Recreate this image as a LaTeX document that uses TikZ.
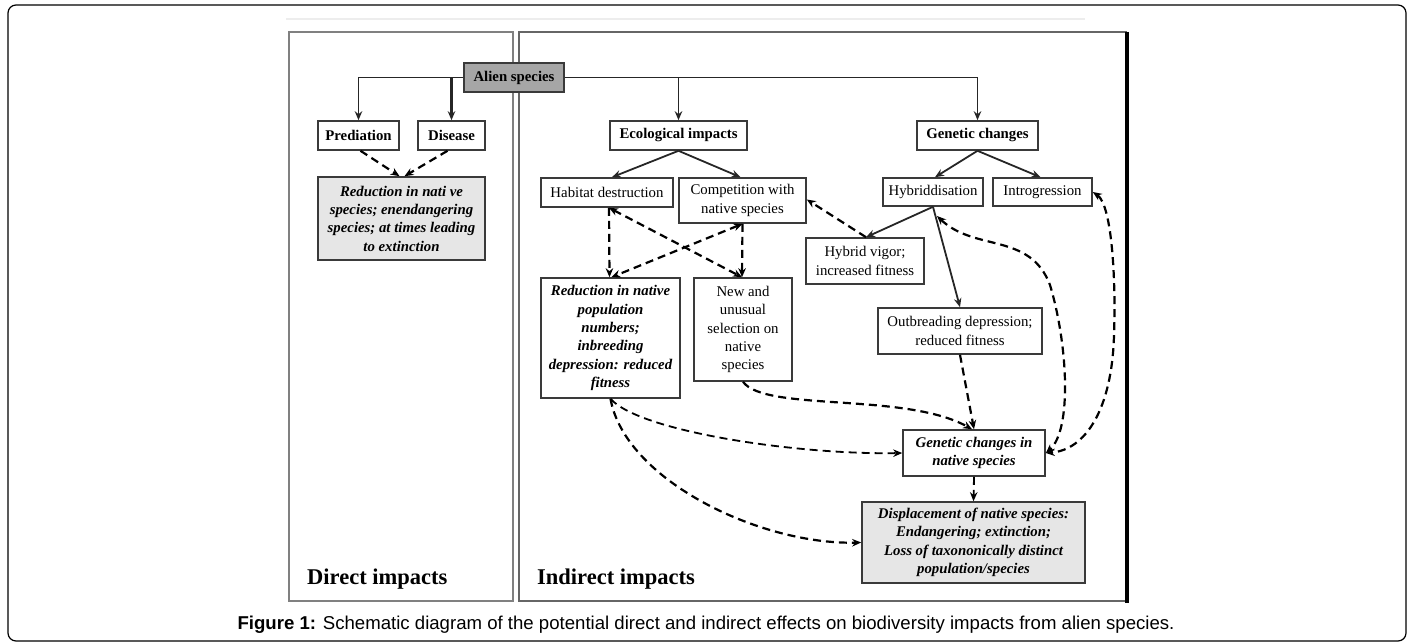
\documentclass[tikz,border=0pt]{standalone}
\usepackage{fontspec}
\setmainfont{Liberation Serif}
\newfontfamily\capfont{Liberation Sans}
\usetikzlibrary{arrows.meta}
\definecolor{aliengray}{HTML}{A6A6A6}
\definecolor{lightfill}{HTML}{E6E6E6}
\definecolor{boxline}{HTML}{3A3A3A}
\begin{document}
\begin{tikzpicture}[x=1pt,y=-1pt,
  >={Stealth[length=9pt,width=7.5pt]},
  box/.style={draw=boxline, line width=1.6pt, fill=white, inner sep=0pt, align=center,
    font=\fontsize{14.8pt}{18.3pt}\selectfont},
  sol/.style={line width=1.8pt, black!85},
  dsh/.style={line width=2.2pt, black, dash pattern=on 8pt off 5pt},
  panel/.style={line width=2.2pt, black!50},
  label/.style={font=\fontsize{22.5pt}{26pt}\selectfont\bfseries, anchor=base west, inner sep=0pt}]
\useasboundingbox (0,0) rectangle (1413,644);
% outer frame
\draw[line width=1.2pt, rounded corners=8pt] (8,5) rectangle (1406,641);
\draw[black!7, line width=1.5pt] (286,19) -- (1085,19);
% panels
\draw[panel] (289,32) rectangle (513,601);
\draw[panel, black!60] (519,32) rectangle (1126,601);
\draw[line width=4pt, black] (1127,32) -- (1127,603);
\node[label] (direct) at (307,584) {Direct impacts};
\node[label] (indirect) at (537,584) {Indirect impacts};
% boxes
\node[box, fill=aliengray, minimum width=100pt, minimum height=29pt] (alien) at (514,77.5) {\textbf{Alien species}};
\node[box, minimum width=81pt, minimum height=29pt] (pred) at (358.5,135.5) {\textbf{Prediation}};
\node[box, minimum width=67pt, minimum height=29pt] (dis) at (451.5,135.5) {\raisebox{-2pt}{\textbf{Disease}}};
\node[box, fill=lightfill, minimum width=167pt, minimum height=83pt] (red1) at (401.5,218.5)
  {\bfseries\itshape Reduction in nati ve\\ \bfseries\itshape species; enendangering\\ \bfseries\itshape species; at times leading\\ \bfseries\itshape to extinction};
\node[box, minimum width=137pt, minimum height=29pt] (eco) at (678.5,135.5) {\textbf{Ecological impacts}};
\node[box, minimum width=121pt, minimum height=29pt] (gen) at (977.5,135.5) {\textbf{Genetic changes}};
\node[box, minimum width=132pt, minimum height=29pt] (hab) at (607,192.5) {Habitat destruction};
\node[box, minimum width=127pt, minimum height=45pt] (comp) at (742.5,200.5) {Competition with\\ native species};
\node[box, minimum width=100pt, minimum height=28pt] (hyb) at (933,192) {Hybriddisation};
\node[box, minimum width=99pt, minimum height=28pt] (intro) at (1042.5,192) {Introgression};
\node[box, minimum width=118pt, minimum height=46pt] (vigor) at (865,261) {Hybrid vigor;\\ increased fitness};
\node[box, minimum width=139pt, minimum height=120pt] (redpop) at (610.5,338)
  {\bfseries\itshape Reduction in native\\ \bfseries\itshape population\\ \bfseries\itshape numbers;\\ \bfseries\itshape inbreeding\\ \bfseries\itshape depression: reduced\\ \bfseries\itshape fitness};
\node[box, minimum width=98pt, minimum height=103pt] (newu) at (743,329.5) {New and\\ unusual\\ selection on\\ native\\ species};
\node[box, minimum width=164pt, minimum height=46pt] (outb) at (960,331) {Outbreading depression;\\ reduced fitness};
\node[box, minimum width=142pt, minimum height=46pt] (gnat) at (974,453) {\bfseries\itshape Genetic changes in\\ \bfseries\itshape native species};
\node[box, fill=lightfill, minimum width=223pt, minimum height=81pt] (disp) at (973.5,542.5)
  {\bfseries\itshape Displacement of native species:\\ \bfseries\itshape Endangering; extinction;\\ \bfseries\itshape Loss of taxononically distinct\\ \bfseries\itshape population/species};
\coordinate (hybtip) at (937,216);
% solid connectors
\draw[sol,->] (alien.west) -| (pred.north);
\draw[sol,->, line width=2.4pt] (alien.west -| dis.north) -- (dis.north);
\draw[sol,->] (alien.east) -| (gen.north);
\draw[sol,->] (alien.east -| eco.north) -- (eco.north);
\draw[sol,->] (eco.south) -- ([xshift=5pt]hab.north);
\draw[sol,->] (eco.south) -- ([xshift=-2pt]comp.north);
\draw[sol,->] (gen.south) -- ([xshift=2pt]hyb.north);
\draw[sol,->] (gen.south) -- ([xshift=-2pt]intro.north);
\draw[sol,->] (hyb.south) -- ([xshift=1pt]vigor.north);
\draw[sol,->] (hyb.south) -- (outb.north);
% dashed connectors, left panel
\draw[dsh,->] ([xshift=2pt]pred.south) -- ([xshift=-2pt]red1.north);
\draw[dsh,->] ([xshift=-4pt]dis.south) -- ([xshift=3pt]red1.north);
% dashed connectors, right panel
\draw[dsh,->] ([xshift=2pt]hab.south) -- ([xshift=-1pt]redpop.north);
\draw[dsh,<->] ([xshift=2pt]hab.south) -- ([xshift=-1pt]newu.north);
\draw[dsh,->] (comp.south) -- ([xshift=-1pt]newu.north);
\draw[dsh,<->] (comp.south) -- ([xshift=1pt]redpop.north);
\draw[dsh,->] ([xshift=1pt]vigor.north) -- ([yshift=1pt]comp.east);
\draw[dsh,<->] (hybtip) .. controls (975,252) and (1030,232) .. (1050,285)
  .. controls (1068,345) and (1072,430) .. (gnat.east);
\draw[dsh,<->] (intro.east) .. controls (1112,205) and (1116,280) .. (1114,335)
  .. controls (1112,410) and (1085,450) .. (gnat.east);
\draw[dsh,->] (outb.south) -- (gnat.north);
\draw[dsh,->] (newu.south) .. controls (765,412) and (905,392) .. ([xshift=-2pt]gnat.north);
\draw[dsh,->, line width=1.8pt] (redpop.south) .. controls (640,432) and (800,455) .. (gnat.west);
\draw[dsh,->] (redpop.south) .. controls (625,480) and (760,545) .. (disp.west);
\draw[dsh,->, line width=1.8pt] (gnat.south) -- (disp.north);
% caption
\node[font=\capfont\fontsize{18.6pt}{22pt}\selectfont, inner sep=0pt] (cap) at (706,625)
  {\textbf{Figure 1:} Schematic diagram of the potential direct and indirect effects on biodiversity impacts from alien species.};
\end{tikzpicture}
\end{document}
